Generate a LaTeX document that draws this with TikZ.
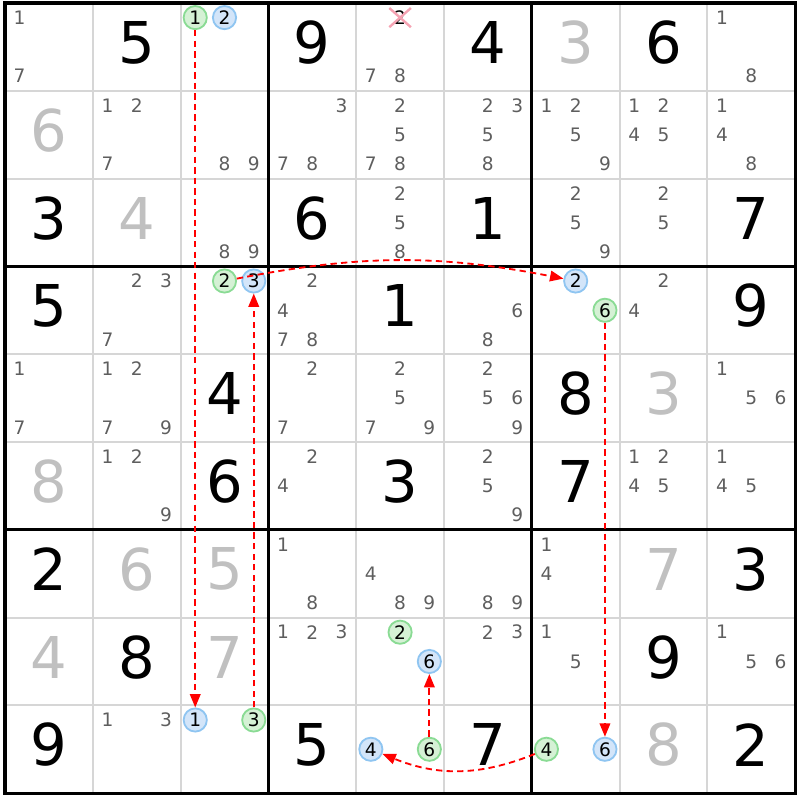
\documentclass[tikz,border=0pt]{standalone}
\usepackage{fontspec}
\setmainfont{DejaVu Sans}
\usetikzlibrary{arrows.meta,shapes.misc}
\definecolor{solvedgray}{HTML}{C0C0C0}
\definecolor{candgray}{HTML}{5E5E5E}
\definecolor{gridgray}{HTML}{D6D6D6}
\definecolor{onfill}{HTML}{D5F1D5}
\definecolor{ondraw}{HTML}{8ADB94}
\definecolor{offfill}{HTML}{D3E5F9}
\definecolor{offdraw}{HTML}{8FC5F1}
\definecolor{xpink}{HTML}{F5A3B3}
\definecolor{linkred}{HTML}{FF0000}
\begin{document}
\begin{tikzpicture}[x=2.195cm, y=-2.195cm]
      \tikzset{given/.style={font=\fontsize{41}{41}\selectfont, text=black, inner sep=0pt, yshift=0.11cm},
               solved/.style={given, text=solvedgray},
               cand/.style={font=\fontsize{13.2}{13.2}\selectfont, text=candgray, inner sep=0pt},
               mark on/.style={cand, text=black, circle, draw=ondraw, fill=onfill, line width=1.3pt, minimum size=0.58cm},
               mark off/.style={cand, text=black, circle, draw=offdraw, fill=offfill, line width=1.3pt, minimum size=0.58cm},
               struck/.style={cand, text=black, cross out, draw=xpink, line width=1.7pt, minimum width=0.48cm, minimum height=0.42cm},
               link/.style={draw=linkred, dash pattern=on 4.5pt off 3pt, line width=1.3pt, -{Triangle[length=9.5pt,width=7.5pt,fill=linkred]}}}
      \useasboundingbox (-0.057,-0.034) rectangle (9.055,9.077);
%% Grid
      \foreach \i in {1,2,4,5,7,8} {
          \draw[gridgray, line width=1.4pt] (\i,0) -- (\i,9);
          \draw[gridgray, line width=1.4pt] (0,\i) -- (9,\i);
      }
      \foreach \i in {0,3,6,9} {
          \draw[line width=2.2pt] (\i,0) -- (\i,9);
          \draw[line width=2.2pt] (0,\i) -- (9,\i);
      }
      \draw[line width=2.2pt] (0,0) rectangle (9,9);
%% Givens
      \foreach \r/\c/\v in {1/2/5, 1/4/9, 1/6/4, 1/8/6, 3/1/3, 3/4/6, 3/6/1, 3/9/7, 4/1/5, 4/5/1, 4/9/9,
                            5/3/4, 5/7/8, 6/3/6, 6/5/3, 6/7/7, 7/1/2, 7/9/3, 8/2/8, 8/8/9, 9/1/9, 9/4/5, 9/6/7, 9/9/2}
          \node[given] (g\r\c) at (\c-0.5,\r-0.5) {\v};
%% Solved
      \foreach \r/\c/\v in {1/7/3, 2/1/6, 3/2/4, 5/8/3, 6/1/8, 7/2/6, 7/3/5, 7/8/7, 8/1/4, 8/3/7, 9/8/8}
          \node[solved] (s\r\c) at (\c-0.5,\r-0.5) {\v};
%% Candidates
      \foreach \r/\c/\ds in {1/1/{1,7}, 1/5/{7,8}, 1/9/{1,8},
                             2/2/{1,2,7}, 2/3/{8,9}, 2/4/{3,7,8}, 2/5/{2,5,7,8}, 2/6/{2,3,5,8}, 2/7/{1,2,5,9}, 2/8/{1,2,4,5}, 2/9/{1,4,8},
                             3/3/{8,9}, 3/5/{2,5,8}, 3/7/{2,5,9}, 3/8/{2,5},
                             4/2/{2,3,7}, 4/4/{2,4,7,8}, 4/6/{6,8}, 4/8/{2,4},
                             5/1/{1,7}, 5/2/{1,2,7,9}, 5/4/{2,7}, 5/5/{2,5,7,9}, 5/6/{2,5,6,9}, 5/9/{1,5,6},
                             6/2/{1,2,9}, 6/4/{2,4}, 6/6/{2,5,9}, 6/8/{1,2,4,5}, 6/9/{1,4,5},
                             7/4/{1,8}, 7/5/{4,8,9}, 7/6/{8,9}, 7/7/{1,4},
                             8/4/{1,2,3}, 8/6/{2,3}, 8/7/{1,5}, 8/9/{1,5,6},
                             9/2/{1,3}}
          \foreach \d in \ds {
              \pgfmathsetmacro\cx{\c-1+(mod(\d-1,3)+0.5)/3}
              \pgfmathsetmacro\cy{\r-1+(floor((\d-1)/3)+0.5)/3}
              \node[cand] (n\r\c\d) at (\cx,\cy) {\d};
          }
%% Marked candidates
      \node[struck] (x152) at (4.5,0.1667) {2};
      \node[mark on] (h131) at (2.1667,0.1667) {1};
      \node[mark off] (h132) at (2.5,0.1667) {2};
      \node[mark on] (h432) at (2.5,3.1667) {2};
      \node[mark off] (h433) at (2.8333,3.1667) {3};
      \node[mark off] (h472) at (6.5,3.1667) {2};
      \node[mark on] (h476) at (6.8333,3.5) {6};
      \node[mark on] (h852) at (4.5,7.1667) {2};
      \node[mark off] (h856) at (4.8333,7.5) {6};
      \node[mark off] (h931) at (2.1667,8.1667) {1};
      \node[mark on] (h933) at (2.8333,8.1667) {3};
      \node[mark off] (h954) at (4.1667,8.5) {4};
      \node[mark on] (h956) at (4.8333,8.5) {6};
      \node[mark on] (h974) at (6.1667,8.5) {4};
      \node[mark off] (h976) at (6.8333,8.5) {6};
%% Links
      \draw[link] (h131) -- (h931);
      \draw[link] (h933) -- (h433);
      \draw[link] (h432) to[bend left=11] (h472);
      \draw[link] (h476) -- (h976);
      \draw[link] (h974) to[bend left=22] (h954);
      \draw[link] (h956) -- (h856);
\end{tikzpicture}
\end{document}
